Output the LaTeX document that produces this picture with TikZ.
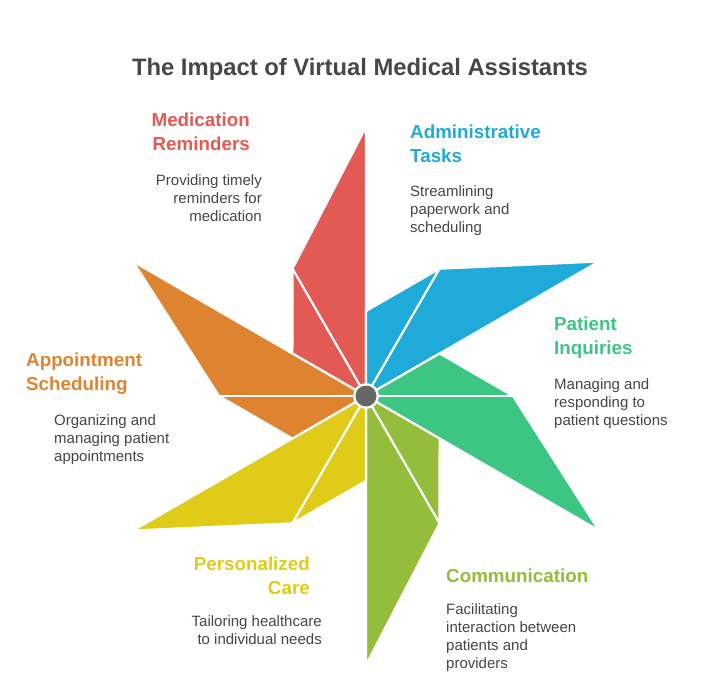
\documentclass[tikz,border=0pt]{standalone}
\usepackage{fontspec}
\setmainfont{Liberation Sans}
\usetikzlibrary{calc}
\begin{document}
\begin{tikzpicture}[x=1pt,y=-1pt,
  blade/.style={draw=white,line width=2.2pt,line join=round},
  head/.style={font=\bfseries\fontsize{18.8}{24}\selectfont,inner sep=0pt},
  body/.style={font=\fontsize{15}{18}\selectfont,text=txt,inner sep=0pt}]
\definecolor{cred}{HTML}{E35A55}
\definecolor{cblue}{HTML}{20AADA}
\definecolor{cgreen}{HTML}{3DC583}
\definecolor{clime}{HTML}{93BD3A}
\definecolor{cyel}{HTML}{DFCB18}
\definecolor{corg}{HTML}{DE8431}
\definecolor{txt}{HTML}{454545}
\useasboundingbox (0,0) rectangle (720,680);
\coordinate (c) at (366,396);
\foreach \a/\col in {90/cred,30/cblue,-30/cgreen,-90/clime,-150/cyel,150/corg}{
  \fill[\col,blade] (c) -- ($(c)+({cos(\a)*269},{-sin(\a)*269})$)
    -- ($(c)+({cos(\a+30)*147},{-sin(\a+30)*147})$)
    -- ($(c)+({cos(\a+60)*85},{-sin(\a+60)*85})$) -- cycle;
  \draw[white,line width=2.2pt] (c) -- ($(c)+({cos(\a+30)*147},{-sin(\a+30)*147})$);
}
\fill[white] (c) circle (13);
\fill[black!60] (c) circle (10.5);
\node[font=\bfseries\fontsize{23.8}{28}\selectfont,text=black!72,anchor=base] (title) at (360,75) {The Impact of Virtual Medical Assistants};
\node[head,text=cred,align=right,anchor=base east] (h1) at (250,150) {Medication\\Reminders};
\node[body,align=right,anchor=base east] (d1) at (262,221) {Providing timely\\reminders for\\medication};
\node[head,text=cblue,align=left,anchor=base west] (h2) at (410,162) {Administrative\\Tasks};
\node[body,align=left,anchor=base west] (d2) at (410,232) {Streamlining\\paperwork and\\scheduling};
\node[head,text=cgreen,align=left,anchor=base west] (h3) at (554,354) {Patient\\Inquiries};
\node[body,align=left,anchor=base west] (d3) at (554,425) {Managing and\\responding to\\patient questions};
\node[head,text=clime,align=left,anchor=base west] (h4) at (446,582) {Communication};
\node[body,align=left,anchor=base west] (d4) at (446,668) {Facilitating\\interaction between\\patients and\\providers};
\node[head,text=cyel,align=right,anchor=base east] (h5) at (310,594) {Personalized\\Care};
\node[body,align=right,anchor=base east] (d5) at (322,644) {Tailoring healthcare\\to individual needs};
\node[head,text=corg,align=left,anchor=base west] (h6) at (26,390) {Appointment\\Scheduling};
\node[body,align=left,anchor=base west] (d6) at (54,461) {Organizing and\\managing patient\\appointments};
\end{tikzpicture}
\end{document}
